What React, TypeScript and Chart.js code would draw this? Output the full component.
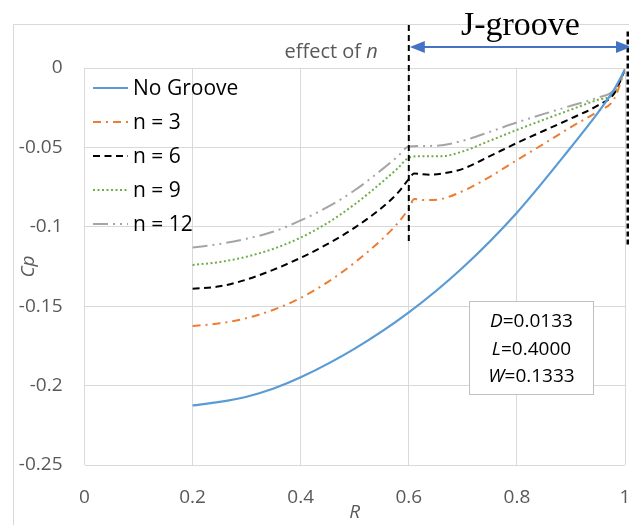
import React, { useEffect, useRef } from "react";
import { Chart, registerables } from "chart.js";

Chart.register(...registerables);

// ---------- data ----------
const noGrooveR = [0.2, 0.25, 0.3, 0.35, 0.4, 0.5, 0.6, 0.7, 0.8, 0.9, 0.95, 0.98, 1.0];
const noGrooveCp = [-0.2125, -0.2103, -0.207, -0.2018, -0.1948, -0.1767, -0.1539, -0.1256, -0.0911, -0.0499, -0.0281, -0.0135, -0.001];

const n3R = [0.2, 0.25, 0.3, 0.35, 0.4, 0.45, 0.5, 0.55, 0.58, 0.6, 0.61, 0.63, 0.66, 0.7, 0.75, 0.8, 0.85, 0.9, 0.95, 0.98, 1.0];
const n3Cp = [-0.1625, -0.1608, -0.1575, -0.1522, -0.1448, -0.1348, -0.1225, -0.108, -0.0975, -0.0885, -0.0825, -0.0832, -0.0825, -0.0775, -0.0685, -0.058, -0.0477, -0.0372, -0.0272, -0.0195, -0.001];

const n6R = [0.2, 0.25, 0.3, 0.35, 0.4, 0.45, 0.5, 0.55, 0.58, 0.6, 0.61, 0.64, 0.67, 0.7, 0.75, 0.8, 0.85, 0.9, 0.95, 0.98, 1.0];
const n6Cp = [-0.139, -0.1375, -0.1332, -0.127, -0.1195, -0.1108, -0.1005, -0.088, -0.0785, -0.07, -0.0665, -0.0672, -0.066, -0.0635, -0.0555, -0.0472, -0.0395, -0.0318, -0.0235, -0.016, -0.001];

const n9R = [0.2, 0.25, 0.3, 0.35, 0.4, 0.45, 0.5, 0.55, 0.58, 0.6, 0.62, 0.66, 0.7, 0.75, 0.8, 0.85, 0.9, 0.95, 0.98, 1.0];
const n9Cp = [-0.124, -0.1222, -0.1188, -0.1138, -0.1068, -0.0975, -0.0858, -0.072, -0.063, -0.0565, -0.0555, -0.0556, -0.0525, -0.0458, -0.039, -0.0325, -0.0262, -0.02, -0.016, -0.001];

const n12R = [0.2, 0.25, 0.3, 0.35, 0.4, 0.45, 0.5, 0.55, 0.58, 0.6, 0.65, 0.7, 0.75, 0.8, 0.85, 0.9, 0.95, 0.98, 1.0];
const n12Cp = [-0.1131, -0.1108, -0.1075, -0.103, -0.096, -0.0875, -0.077, -0.064, -0.0555, -0.0495, -0.049, -0.0458, -0.0402, -0.0343, -0.0289, -0.0238, -0.0186, -0.0138, -0.001];

const seriesLabels = ["No Groove", "n = 3", "n = 6", "n = 9", "n = 12"];
const xTickValues = [0, 0.2, 0.4, 0.6, 0.8, 1];
const yTickValues = [0, -0.05, -0.1, -0.15, -0.2, -0.25];
const paramLabels: [string, string][] = [
  ["D", "=0.0133"],
  ["L", "=0.4000"],
  ["W", "=0.1333"],
];
const grooveLabel = "J-groove";
const effectLabel = ["effect of ", "n"];
const xTitle = "R";
const yTitle = "Cp";
const grooveStart = 0.6;
const grooveEnd = 1.0;

const FONT = "'Open Sans', sans-serif";
const GRAY_TEXT = "#595959";
const GRID = "#D9D9D9";

function fmt(v: number) {
  return String(Number(v.toFixed(2)));
}

export default function App() {
  const ref = useRef<HTMLCanvasElement>(null);

  useEffect(() => {
    const canvas = ref.current!;
    const mk = (label: string, xs: number[], ys: number[], color: string, dash: number[], width: number) => ({
      label,
      data: xs.map((x, i) => ({ x, y: ys[i] })),
      borderColor: color,
      backgroundColor: color,
      borderDash: dash,
      borderWidth: width,
      pointRadius: 0,
      pointHoverRadius: 0,
      showLine: true,
      fill: false,
      cubicInterpolationMode: "monotone" as const,
    });

    const datasets = [
      mk(seriesLabels[0], noGrooveR, noGrooveCp, "#5B9BD5", [], 2.2),
      mk(seriesLabels[1], n3R, n3Cp, "#ED7D31", [8, 5, 2, 5], 2),
      mk(seriesLabels[2], n6R, n6Cp, "#000000", [7, 4.5], 2),
      mk(seriesLabels[3], n9R, n9Cp, "#70AD47", [2, 2.5], 2),
      mk(seriesLabels[4], n12R, n12Cp, "#A5A5A5", [15, 5, 2, 5, 2, 5], 2),
    ];

    const decor = {
      id: "decor",
      beforeDraw(chart: any) {
        const ctx = chart.ctx;
        ctx.save();
        ctx.strokeStyle = GRID;
        ctx.lineWidth = 1;
        ctx.strokeRect(13.5, 24.5, 800, 800);
        ctx.restore();
      },
      afterDatasetsDraw(chart: any) {
        const ctx = chart.ctx as CanvasRenderingContext2D;
        const xs = chart.scales.x;
        const ys = chart.scales.y;
        const area = chart.chartArea;
        ctx.save();

        // vertical dashed markers
        const xa = xs.getPixelForValue(grooveStart);
        const xb = xs.getPixelForValue(grooveEnd) + 3;
        ctx.strokeStyle = "#000";
        ctx.setLineDash([6, 4]);
        ctx.lineWidth = 2;
        ctx.beginPath();
        ctx.moveTo(xa, ys.getPixelForValue(0.027));
        ctx.lineTo(xa, ys.getPixelForValue(-0.11));
        ctx.stroke();
        ctx.setLineDash([5, 3]);
        ctx.lineWidth = 3;
        ctx.beginPath();
        ctx.moveTo(xb, ys.getPixelForValue(0.023));
        ctx.lineTo(xb, ys.getPixelForValue(-0.112));
        ctx.stroke();
        ctx.setLineDash([]);

        // double arrow
        const ay = ys.getPixelForValue(0.0133);
        const tipL = xa + 1;
        const tipR = xb + 3;
        ctx.strokeStyle = "#4472C4";
        ctx.fillStyle = "#4472C4";
        ctx.lineWidth = 2;
        ctx.beginPath();
        ctx.moveTo(tipL + 10, ay);
        ctx.lineTo(tipR - 10, ay);
        ctx.stroke();
        ctx.beginPath();
        ctx.moveTo(tipL, ay);
        ctx.lineTo(tipL + 15, ay - 6);
        ctx.lineTo(tipL + 15, ay + 6);
        ctx.closePath();
        ctx.fill();
        ctx.beginPath();
        ctx.moveTo(tipR, ay);
        ctx.lineTo(tipR - 15, ay - 6);
        ctx.lineTo(tipR - 15, ay + 6);
        ctx.closePath();
        ctx.fill();

        // J-groove label
        ctx.fillStyle = "#000";
        ctx.font = "34px 'Liberation Serif', 'Times New Roman', serif";
        ctx.textAlign = "center";
        ctx.textBaseline = "alphabetic";
        ctx.fillText(grooveLabel, (tipL + tipR) / 2, 35);

        // effect of n
        ctx.fillStyle = GRAY_TEXT;
        ctx.font = `20px ${FONT}`;
        const w1 = ctx.measureText(effectLabel[0]).width;
        ctx.font = `italic 20px ${FONT}`;
        const w2 = ctx.measureText(effectLabel[1]).width;
        const eRight = xa - 31;
        ctx.textAlign = "left";
        ctx.font = `20px ${FONT}`;
        ctx.fillText(effectLabel[0], eRight - w1 - w2, 58);
        ctx.font = `italic 20px ${FONT}`;
        ctx.fillText(effectLabel[1], eRight - w2, 58);

        // parameter box
        const bl = 469.5, bt = 301.5, bw = 124, bh = 93;
        ctx.fillStyle = "#fff";
        ctx.fillRect(bl, bt, bw, bh);
        ctx.strokeStyle = "#BFBFBF";
        ctx.lineWidth = 1;
        ctx.strokeRect(bl, bt, bw, bh);
        ctx.fillStyle = "#000";
        ctx.textBaseline = "middle";
        paramLabels.forEach(([a, b], i) => {
          const cy = 322 + i * 27.5;
          ctx.font = `italic 19px ${FONT}`;
          const wa = ctx.measureText(a).width;
          ctx.font = `19px ${FONT}`;
          const wb = ctx.measureText(b).width;
          const sx = bl + bw / 2 - (wa + wb) / 2;
          ctx.font = `italic 19px ${FONT}`;
          ctx.fillText(a, sx, cy);
          ctx.font = `19px ${FONT}`;
          ctx.fillText(b, sx + wa, cy);
        });

        // legend inside the plot
        chart.data.datasets.forEach((ds: any, i: number) => {
          const cy = area.top + 20 + i * 34;
          ctx.strokeStyle = ds.borderColor;
          ctx.lineWidth = ds.borderWidth;
          ctx.setLineDash(ds.borderDash || []);
          ctx.beginPath();
          ctx.moveTo(area.left + 8.5, cy);
          ctx.lineTo(area.left + 43.5, cy);
          ctx.stroke();
          ctx.setLineDash([]);
          ctx.fillStyle = "#000";
          ctx.font = `21px ${FONT}`;
          ctx.textAlign = "left";
          ctx.textBaseline = "middle";
          ctx.fillText(ds.label, area.left + 48.5, cy + 1);
        });

        // axis titles
        ctx.fillStyle = GRAY_TEXT;
        ctx.font = `italic 19px ${FONT}`;
        ctx.textAlign = "center";
        ctx.textBaseline = "middle";
        ctx.fillText(xTitle, (area.left + area.right) / 2, 513);
        ctx.translate(29, (area.top + area.bottom) / 2);
        ctx.rotate(-Math.PI / 2);
        ctx.fillText(yTitle, 0, 0);

        ctx.restore();
      },
    };

    const chart = new Chart(canvas, {
      type: "scatter",
      data: { datasets: datasets as any },
      options: {
        responsive: false,
        animation: false,
        devicePixelRatio: 1,
        layout: { padding: { left: 0, top: 68, right: 4, bottom: 20 } },
        plugins: {
          legend: { display: false },
          tooltip: { enabled: false },
        },
        scales: {
          x: {
            type: "linear",
            min: 0,
            max: 1,
            afterBuildTicks: (s: any) => {
              s.ticks = xTickValues.map((v) => ({ value: v }));
            },
            afterFit: (s: any) => {
              s.height = 40;
              s.paddingLeft = 0;
              s.paddingRight = 0;
            },
            grid: { color: GRID, lineWidth: 1, drawTicks: false },
            border: { display: false },
            ticks: {
              padding: 21,
              color: GRAY_TEXT,
              font: { family: FONT, size: 19 },
              maxRotation: 0,
              callback: (v: any) => fmt(Number(v)),
            },
          },
          y: {
            type: "linear",
            min: -0.25,
            max: 0,
            afterBuildTicks: (s: any) => {
              s.ticks = yTickValues.map((v) => ({ value: v }));
            },
            afterFit: (s: any) => {
              s.width = 84.5;
              s.paddingTop = 0;
              s.paddingBottom = 0;
            },
            grid: { color: GRID, lineWidth: 1, drawTicks: false },
            border: { display: false },
            ticks: {
              padding: 22,
              color: GRAY_TEXT,
              font: { family: FONT, size: 19 },
              callback: (v: any) => fmt(Number(v)),
            },
          },
        },
      },
      plugins: [decor],
    });

    return () => chart.destroy();
  }, []);

  return (
    <div style={{ position: "absolute", left: 0, top: 0, width: 629, height: 525, background: "#fff" }}>
      <canvas ref={ref} width={629} height={525} style={{ display: "block" }} />
    </div>
  );
}
